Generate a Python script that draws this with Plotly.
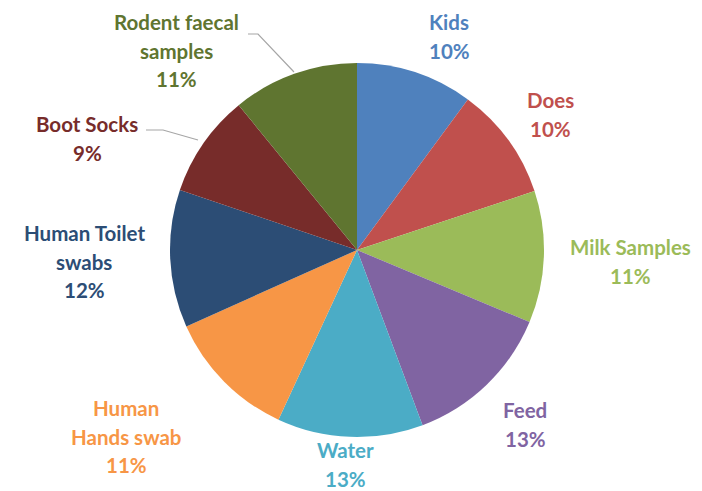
import plotly.graph_objects as go

categories = ["Kids", "Does", "Milk Samples", "Feed", "Water", "Human Hands swab",
              "Human Toilet swabs", "Boot Socks", "Rodent faecal samples"]
values = [10.1, 9.8, 11.4, 13.0, 12.6, 11.4, 11.9, 8.9, 10.9]
colors = ["#4F81BD", "#C0504D", "#9BBB59", "#8064A2", "#4BACC6", "#F79646",
          "#2C4D75", "#772C2A", "#5F7530"]
label_lines = [["Kids"], ["Does"], ["Milk Samples"], ["Feed"], ["Water"],
               ["Human", "Hands swab"], ["Human Toilet", "swabs"], ["Boot Socks"],
               ["Rodent faecal", "samples"]]

W, H = 702, 491
total = sum(values)
pcts = [f"{round(v / total * 100)}%" for v in values]

fig = go.Figure(go.Pie(
    labels=categories, values=values, sort=False, direction="clockwise",
    rotation=0, marker=dict(colors=colors, line=dict(width=0)),
    textinfo="none", hoverinfo="label+percent", showlegend=False,
    domain=dict(x=[170 / W, 544 / W], y=[1 - 437 / H, 1 - 63 / H]),
))

# label anchor (center x, first line center y) in pixels
label_pos = [(449, 22), (550, 100), (630, 247), (525, 410), (345, 450),
             (126, 408), (84, 233), (87, 124), (176, 22)]
step = 28.5
anns = []
for lines, pct, col, (px, py) in zip(label_lines, pcts, colors, label_pos):
    for i, t in enumerate(lines + [pct]):
        anns.append(dict(x=px / W, y=1 - (py + i * step) / H, xref="paper", yref="paper",
                         text=f"<b>{t}</b>", showarrow=False, xanchor="center", yanchor="middle",
                         font=dict(family="Lato", size=20.5, color=col)))

shapes = [
    dict(type="path", xref="paper", yref="paper",
         path=f"M {248/W} {1-34/H} L {258/W} {1-34/H} L {294/W} {1-72/H}",
         line=dict(color="#A6A6A6", width=1.2)),
    dict(type="path", xref="paper", yref="paper",
         path=f"M {146/W} {1-130/H} L {163/W} {1-130/H} L {198/W} {1-140/H}",
         line=dict(color="#A6A6A6", width=1.2)),
]

fig.update_layout(width=W, height=H, margin=dict(l=0, r=0, t=0, b=0),
                  paper_bgcolor="white", plot_bgcolor="white",
                  annotations=anns, shapes=shapes)
fig.write_html("out.html")
